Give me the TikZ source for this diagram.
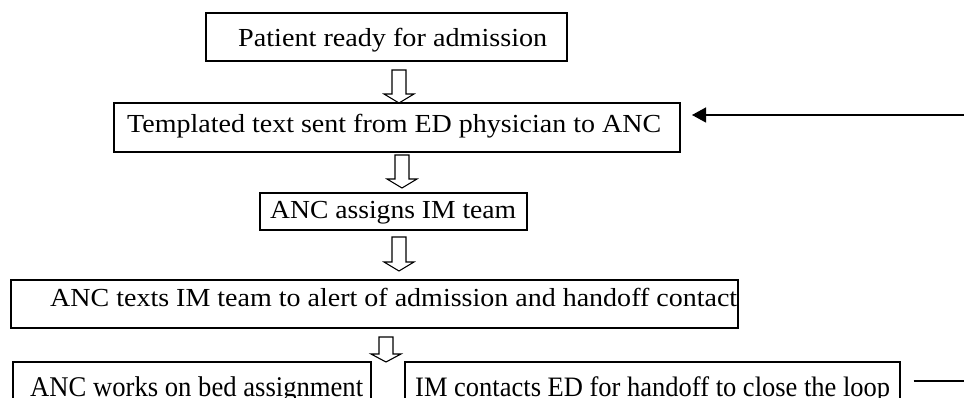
\documentclass[tikz,border=0pt]{standalone}
\usepackage{fontspec}
\setmainfont{Liberation Serif}
\usetikzlibrary{arrows.meta}
\tikzset{
  box/.style={draw, line width=2pt, inner sep=0pt, rectangle},
  lbl/.style={inner sep=0pt, anchor=base west, font=\fontsize{26}{30}\selectfont},
  hollow/.style={draw, line width=1.1pt, line join=miter, fill=white},
  conn/.style={line width=1.3pt}
}
% #1 = x centre, #2 = top of shaft, #3 = base of head, #4 = tip
\newcommand\hollowdown[4]{%
  \draw[hollow] (#1-7,#2) -- (#1+7,#2) -- (#1+7,#3) -- (#1+15,#3) -- (#1,#4)
     -- (#1-15,#3) -- (#1-7,#3) -- cycle;}
\begin{document}
\begin{tikzpicture}[x=1pt,y=-1pt]
\useasboundingbox (0,0) rectangle (964,398);
\clip (0,0) rectangle (964,398);
% boxes
\node[box, minimum width=361pt, minimum height=48pt] (b1) at (386,37.5) {};
\node[box, minimum width=566pt, minimum height=49pt] (b2) at (396.5,128) {};
\node[box, minimum width=267pt, minimum height=37pt] (b3) at (393,212) {};
\node[box, minimum width=727pt, minimum height=48pt] (b4) at (374,303.5) {};
\node[box, minimum width=358pt, minimum height=40pt] (b5) at (191.5,382) {};
\node[box, minimum width=495pt, minimum height=40pt] (b6) at (652,382) {};
% texts
\node[lbl] (t1) at (238,47)  {\resizebox{309pt}{\height}{Patient ready for admission}};
\node[lbl] (t2) at (127,133) {\resizebox{534pt}{\height}{Templated text sent from ED physician to ANC}};
\node[lbl] (t3) at (270,219) {\resizebox{246pt}{\height}{ANC assigns IM team}};
\node[lbl] (t4) at (50,306)  {\resizebox{687pt}{\height}{ANC texts IM team to alert of admission and handoff contact}};
\node[lbl] (t5) at (30,396.5)  {\resizebox{333pt}{19.8pt}{ANC works on bed assignment}};
\node[lbl] (t6) at (415,396.5) {\resizebox{475pt}{19.8pt}{IM contacts ED for handoff to close the loop}};
% hollow block arrows between the steps
\hollowdown{399}{70}{94}{103}
\hollowdown{402}{155}{179}{188}
\hollowdown{399}{237}{262}{271}
\hollowdown{386}{337}{354}{362}
% loop-back connectors
\coordinate (fbin) at (964,115);
\coordinate (fbtip) at (692,115);
\draw[conn, -{Triangle[length=14pt,width=15pt]}] (fbin) -- (fbtip);
\coordinate (lpout) at (964,381);
\draw[conn] ([xshift=13pt]b6.east |- 0,381) -- (lpout);
\end{tikzpicture}
\end{document}
